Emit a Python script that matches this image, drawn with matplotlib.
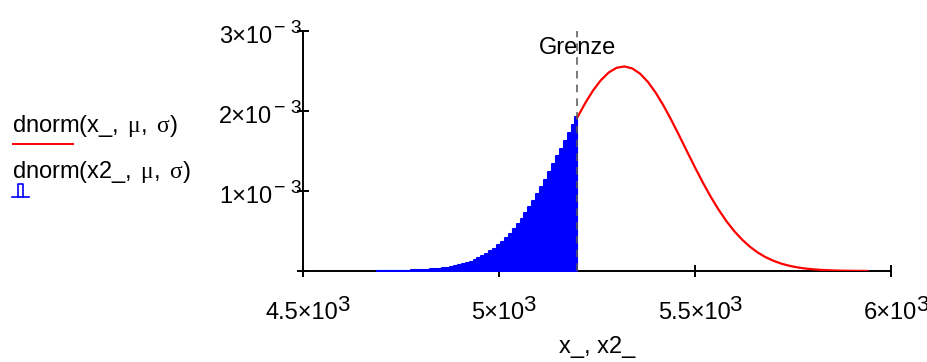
import matplotlib
matplotlib.use("Agg")
import matplotlib.pyplot as plt
from matplotlib.lines import Line2D

plt.rcParams["font.family"] = ["Liberation Sans", "DejaVu Sans"]
plt.rcParams["mathtext.fontset"] = "custom"
plt.rcParams["mathtext.rm"] = "Liberation Serif"
plt.rcParams["mathtext.it"] = "Liberation Serif:italic"

# dnorm(x_, mu, sigma), values in units of 1e-3
x_red = [5200, 5220, 5240, 5260, 5280, 5300, 5320, 5340, 5360, 5380,
         5400, 5420, 5440, 5460, 5480, 5500, 5520, 5540, 5560, 5580,
         5600, 5620, 5640, 5660, 5680, 5700, 5720, 5740, 5760, 5780,
         5800, 5820, 5840, 5860, 5880, 5900, 5920, 5940]
y_red = [1.921, 2.099, 2.257, 2.386, 2.482, 2.540, 2.557, 2.532, 2.466, 2.363,
         2.227, 2.065, 1.883, 1.690, 1.491, 1.295, 1.106, 0.929, 0.768, 0.624,
         0.499, 0.393, 0.304, 0.231, 0.173, 0.1276, 0.0924, 0.0659, 0.0462, 0.0319,
         0.0216, 0.0144, 0.0095, 0.0061, 0.0039, 0.0024, 0.0015, 0.0009]

# dnorm(x2_, mu, sigma) bars up to the limit, units of 1e-3
x_blue = [4690, 4700, 4710, 4720, 4730, 4740, 4750, 4760, 4770, 4780, 4790,
          4800, 4810, 4820, 4830, 4840, 4850, 4860, 4870, 4880, 4890,
          4900, 4910, 4920, 4930, 4940, 4950, 4960, 4970, 4980, 4990,
          5000, 5010, 5020, 5030, 5040, 5050, 5060, 5070, 5080, 5090,
          5100, 5110, 5120, 5130, 5140, 5150, 5160, 5170, 5180, 5190, 5200]
y_blue = [0.0008, 0.0010, 0.0013, 0.0016, 0.0021, 0.0027, 0.0034, 0.0043, 0.0053, 0.0067, 0.0083,
          0.0103, 0.0127, 0.0157, 0.0192, 0.0234, 0.0284, 0.0344, 0.0414, 0.0497, 0.0593,
          0.0706, 0.0836, 0.0987, 0.1160, 0.1357, 0.1583, 0.1838, 0.2124, 0.2446, 0.2805,
          0.3201, 0.3641, 0.4122, 0.4651, 0.5227, 0.5845, 0.6513, 0.7226, 0.7986, 0.8789,
          0.9632, 1.0512, 1.1427, 1.2371, 1.3335, 1.4319, 1.5311, 1.6303, 1.7290, 1.8262, 1.9208]

grenze = 5200
x_ticks = [4500, 5000, 5500, 6000]
x_bases = ["4.5×10", "5×10", "5.5×10", "6×10"]
x_sups = ["3", "3", "3", "3"]
y_ticks = [0, 1e-3, 2e-3, 3e-3]
y_bases = ["", "1×10", "2×10", "3×10"]
y_sups = ["", "− 3", "− 3", "− 3"]

FS = 17
W, H = 927, 362
fig = plt.figure(figsize=(W / 100, H / 100), dpi=100)
ax = fig.add_axes([303 / W, 1 - 271 / H, 588 / W, 240 / H])

ax.fill_between(x_blue, [v * 1e-3 for v in y_blue], step="mid",
                facecolor="#0000ff", edgecolor="#0000ff", lw=1.5, zorder=2)
ax.plot(x_red, [v * 1e-3 for v in y_red], color="#ff0000", lw=1.6, zorder=3)
ax.plot([grenze, grenze], [0, 3e-3], color="#555555", lw=1.1,
        dashes=(5, 4), zorder=4)
ax.text(grenze, 2.79e-3, "Grenze", ha="center", va="center", fontsize=FS,
        zorder=5)

ax.set_xlim(4500, 6000)
ax.set_ylim(0, 3e-3)
for s in ["top", "right"]:
    ax.spines[s].set_visible(False)
for s in ["left", "bottom"]:
    ax.spines[s].set_linewidth(1.4)
    ax.spines[s].set_zorder(1)
ax.set_xticks(x_ticks)
ax.set_xticklabels([])
ax.set_yticks(y_ticks)
ax.set_yticklabels([])
ax.tick_params(direction="inout", length=9, width=1.4)

# tick labels with full size exponents, Mathcad style
for xt, b, s in zip(x_ticks, x_bases, x_sups):
    base = ax.annotate(b, xy=(xt, 0), xycoords=("data", "axes fraction"),
                       xytext=(-1, -31), textcoords="offset pixels",
                       ha="center", va="top", fontsize=FS, annotation_clip=False)
    ax.annotate(s, xy=(1, 0.5), xycoords=base, xytext=(-1, -3),
                textcoords="offset pixels", ha="left", va="bottom", fontsize=16)
for yt, b, s in zip(y_ticks, y_bases, y_sups):
    if not b:
        continue
    base = ax.annotate(b, xy=(0, yt), xycoords=("axes fraction", "data"),
                       xytext=(-31, -6), textcoords="offset pixels",
                       ha="right", va="center", fontsize=FS, annotation_clip=False)
    ax.annotate(s, xy=(1, 0.5), xycoords=base, xytext=(2, 0),
                textcoords="offset pixels", ha="left", va="bottom", fontsize=14)

ax.set_xlabel("x_, x2_", fontsize=FS, labelpad=39)

# legend on the left
fig.text(12 / W, 1 - 126 / H,
         r"dnorm(x_, $\,\mathrm{\mu}$, $\,\mathrm{\sigma}$)",
         fontsize=FS, va="center", ha="left")
fig.lines.append(Line2D([13 / W, 73 / W], [1 - 144 / H, 1 - 144 / H],
                        color="#ff0000", lw=1.4, transform=fig.transFigure))
fig.text(12 / W, 1 - 172 / H,
         r"dnorm(x2_, $\,\mathrm{\mu}$, $\,\mathrm{\sigma}$)",
         fontsize=FS, va="center", ha="left")
fig.lines.append(Line2D([12 / W, 29 / W], [1 - 197 / H, 1 - 197 / H],
                        color="#0000ff", lw=1.2, transform=fig.transFigure))
fig.lines.append(Line2D([18 / W, 18 / W, 23 / W, 23 / W],
                        [1 - 197 / H, 1 - 184 / H, 1 - 184 / H, 1 - 197 / H],
                        color="#0000ff", lw=1.2, transform=fig.transFigure))

fig.savefig("out.png", dpi=100)
